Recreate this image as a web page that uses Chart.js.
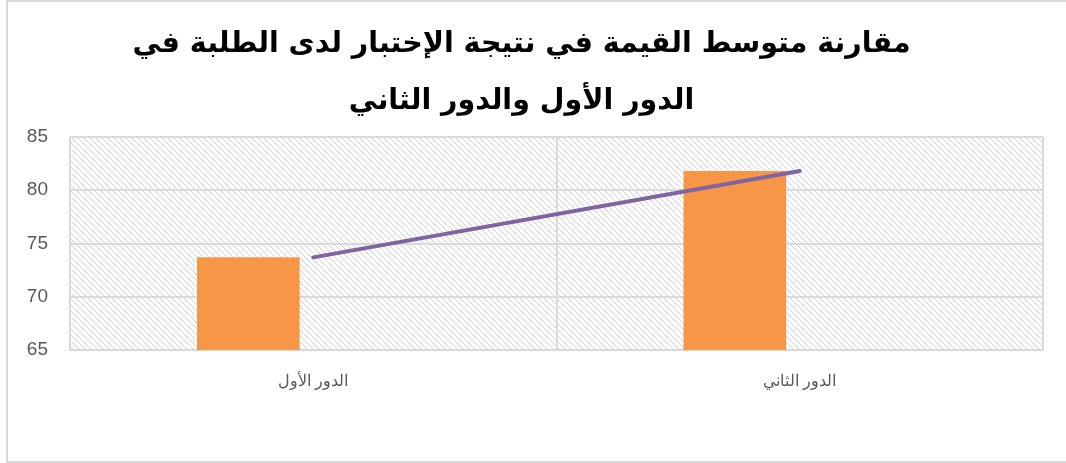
<!DOCTYPE html>
<html lang="ar">
<head>
<meta charset="utf-8">
<script src="https://cdn.jsdelivr.net/npm/chart.js@4"></script>
<style>
    html, body { margin: 0; padding: 0; background: #fff; overflow: hidden; }
    .frame {
        position: absolute; left: 6px; top: 0; width: 1070px; height: 463px;
        border: 2px solid #d9d9d9; box-sizing: border-box;
    }
    .chart-box { position: absolute; left: 0; top: 0; width: 1066px; height: 463px; }
</style>
</head>
<body>
<div class="frame"></div>
<div class="chart-box"><canvas id="compareChart"></canvas></div>
<script>
// chart data
const titleLines = ['مقارنة متوسط القيمة في نتيجة الإختبار لدى الطلبة في', 'الدور الأول والدور الثاني'];
const rounds = ['الدور الأول', 'الدور الثاني'];
const meanScores = [73.7, 81.8];
const yTicks = [65, 70, 75, 80, 85];

const orange = '#f79646';
const purple = '#8064a2';
const gridGrey = '#dadada';
const labelGrey = '#595959';

// light downward-diagonal hatch like the excel plot area fill
function makeHatch() {
    const size = 6;
    const c = document.createElement('canvas');
    c.width = size;
    c.height = size;
    const g = c.getContext('2d');
    const img = g.createImageData(size, size);
    for (let y = 0; y < size; y++) {
        for (let x = 0; x < size; x++) {
            const i = (y * size + x) * 4;
            const on = ((x - y) % size + size) % size === 0;
            const v = on ? 212 : 255;
            img.data[i] = v;
            img.data[i + 1] = v;
            img.data[i + 2] = v;
            img.data[i + 3] = 255;
        }
    }
    g.putImageData(img, 0, 0);
    return g.createPattern(c, 'repeat');
}

const plotHatch = {
    id: 'plotHatch',
    beforeDraw(chart) {
        const { ctx, chartArea: a } = chart;
        ctx.save();
        ctx.fillStyle = makeHatch();
        ctx.fillRect(a.left, a.top, a.right - a.left, a.bottom - a.top);
        ctx.restore();
    }
};

const ctx = document.getElementById('compareChart').getContext('2d');

new Chart(ctx, {
    type: 'bar',
    data: {
        labels: rounds,
        datasets: [
            {
                type: 'line',
                label: 'line',
                data: meanScores,
                borderColor: purple,
                borderWidth: 4,
                borderCapStyle: 'round',
                pointRadius: 0,
                tension: 0,
                order: 0
            },
            {
                label: 'mean',
                data: meanScores,
                backgroundColor: orange,
                categoryPercentage: 0.534,
                barPercentage: 0.79,
                order: 1
            },
            {
                // empty second series in the cluster, pushes the bar left
                label: 'blank',
                data: [null, null],
                backgroundColor: 'rgba(0,0,0,0)',
                categoryPercentage: 0.534,
                barPercentage: 0.79,
                order: 2
            }
        ]
    },
    options: {
        responsive: true,
        maintainAspectRatio: false,
        animation: false,
        layout: {
            padding: { left: 0, right: 23, top: 0, bottom: 60 }
        },
        plugins: {
            legend: { display: false },
            tooltip: { enabled: false },
            title: {
                display: true,
                text: titleLines,
                color: '#000',
                font: { family: 'DejaVu Sans', size: 28.5, weight: 'bold', lineHeight: 2 },
                padding: { top: 16, bottom: 7 }
            }
        },
        scales: {
            x: {
                offset: true,
                grid: { color: gridGrey, lineWidth: 2, offset: true, drawTicks: false },
                border: { color: gridGrey, width: 2 },
                ticks: {
                    color: labelGrey,
                    font: { family: 'Liberation Sans', size: 16 },
                    padding: 22
                },
                afterFit(scale) { scale.height = 53; }
            },
            y: {
                min: 65,
                max: 85,
                afterBuildTicks(scale) {
                    scale.ticks = yTicks.map(v => ({ value: v }));
                },
                grid: { color: gridGrey, lineWidth: 2, drawTicks: false },
                border: { display: false },
                ticks: {
                    color: labelGrey,
                    font: { family: 'Liberation Sans', size: 19 },
                    padding: 22
                },
                afterFit(scale) { scale.width = 70; }
            }
        }
    },
    plugins: [plotHatch]
});
</script>
</body>
</html>
